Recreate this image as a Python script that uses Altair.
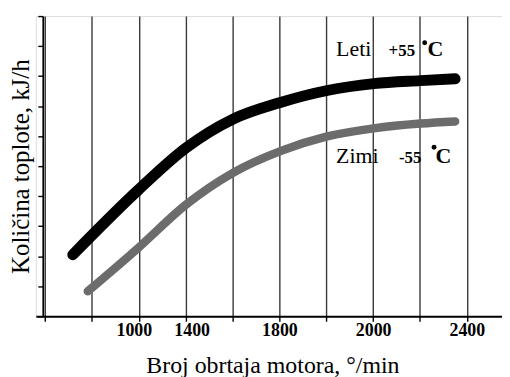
import altair as alt
import pandas as pd

# grid position index (vertical line number) and heat quantity (axis units)
leti_x = [0.59, 1.99, 3.00, 4.00, 5.02, 6.02, 7.01, 8.01, 8.75]
leti_y = [2.05, 4.21, 5.60, 6.56, 7.12, 7.52, 7.75, 7.85, 7.91]
zimi_x = [0.91, 1.99, 3.00, 4.00, 5.02, 6.02, 7.01, 8.01, 8.75]
zimi_y = [0.83, 2.28, 3.71, 4.77, 5.50, 5.99, 6.26, 6.42, 6.49]

tick_positions = [2, 3, 5, 7, 9]
tick_labels = ["1000", "1400", "1800", "2000", "2400"]

leti = pd.DataFrame({"x": leti_x, "y": leti_y})
zimi = pd.DataFrame({"x": zimi_x, "y": zimi_y})

label_expr = " : ".join(
    f"datum.value == {p} ? '{l}'" for p, l in zip(tick_positions, tick_labels)
) + " : ''"

FONT = "Liberation Serif"

xscale = alt.Scale(domain=[-0.198, 9.75], nice=False, zero=False)
yscale = alt.Scale(domain=[0, 10], nice=False, zero=False)

xaxis = alt.Axis(
    values=list(range(0, 10)),
    tickCount=30,
    labelExpr=label_expr,
    labelOffset={
        "condition": [
            {"test": "datum.value == 2", "value": -5},
            {"test": "datum.value == 3", "value": 6},
        ],
        "value": 0,
    },
    title="Broj obrtaja motora, °/min",
    grid=True, gridColor="#3a3a3a", gridWidth=1.4, gridOpacity=1,
    domainColor="#000", domainWidth=1.8,
    tickColor="#000", tickSize=5, tickWidth=1.4,
    labelFont=FONT, labelFontSize=18, labelFontWeight="bold", labelColor="#000",
    labelPadding=0, labelFlush=False, labelOverlap=False,
    titleFont=FONT, titleFontSize=24, titleFontWeight="normal", titleColor="#000",
    titleX=238, titleY=57, titleAnchor="middle", titleAlign="center", titleBaseline="alphabetic",
)
yaxis = alt.Axis(
    values=list(range(0, 11)),
    tickCount=30,
    labelExpr="''",
    labelOverlap=False,
    offset=-7,
    title="Količina toplote, kJ/h",
    grid=False,
    domainColor="#000", domainWidth=1.8,
    tickColor="#000", tickSize=5, tickWidth=1.4,
    titleFont=FONT, titleFontSize=25, titleFontWeight="normal", titleColor="#000",
    titleX=-22, titleY=151, titleAngle=-90, titleAlign="center", titleBaseline="middle",
)

X = alt.X("x:Q", scale=xscale, axis=xaxis)
Y = alt.Y("y:Q", scale=yscale, axis=yaxis)

base_leti = alt.Chart(leti).mark_line(
    color="#000", strokeWidth=11, strokeCap="round", interpolate="monotone"
).encode(x=X, y=Y)
base_zimi = alt.Chart(zimi).mark_line(
    color="#6c6c6c", strokeWidth=8.5, strokeCap="round", interpolate="monotone"
).encode(x=X, y=Y)

ann = pd.DataFrame({
    "x": [6.21, 7.33, 8.16, 6.21, 7.55, 8.33],
    "y": [8.68, 8.68, 8.68, 5.10, 5.10, 5.10],
    "t": ["Leti", "+55", "C", "Zimi", "-55", "C"],
    "s": [22, 17, 22, 22, 17, 22],
    "w": ["normal", "bold", "bold", "normal", "bold", "bold"],
})
dots = pd.DataFrame({"x": [8.10, 8.30], "y": [9.11, 5.63]})

def txt(i):
    r = ann.iloc[i]
    return alt.Chart(ann.iloc[[i]]).mark_text(
        font=FONT, fontSize=int(r["s"]), fontWeight=r["w"], align="left",
        baseline="alphabetic", color="#000"
    ).encode(x=X, y=Y, text="t:N")

texts = [txt(i) for i in range(len(ann))]
dot_layer = alt.Chart(dots).mark_circle(size=24, color="#000", opacity=1).encode(x=X, y=Y)

chart = alt.layer(base_leti, base_zimi, *texts, dot_layer).properties(
    width=469, height=302,
    autosize=alt.AutoSizeParams(type="none"),
    padding={"left": 28, "top": 7, "right": 0, "bottom": 60},
).configure_view(stroke=None).configure(background="white")

chart.save("out.html", embed_options={"renderer": "svg", "actions": False})
